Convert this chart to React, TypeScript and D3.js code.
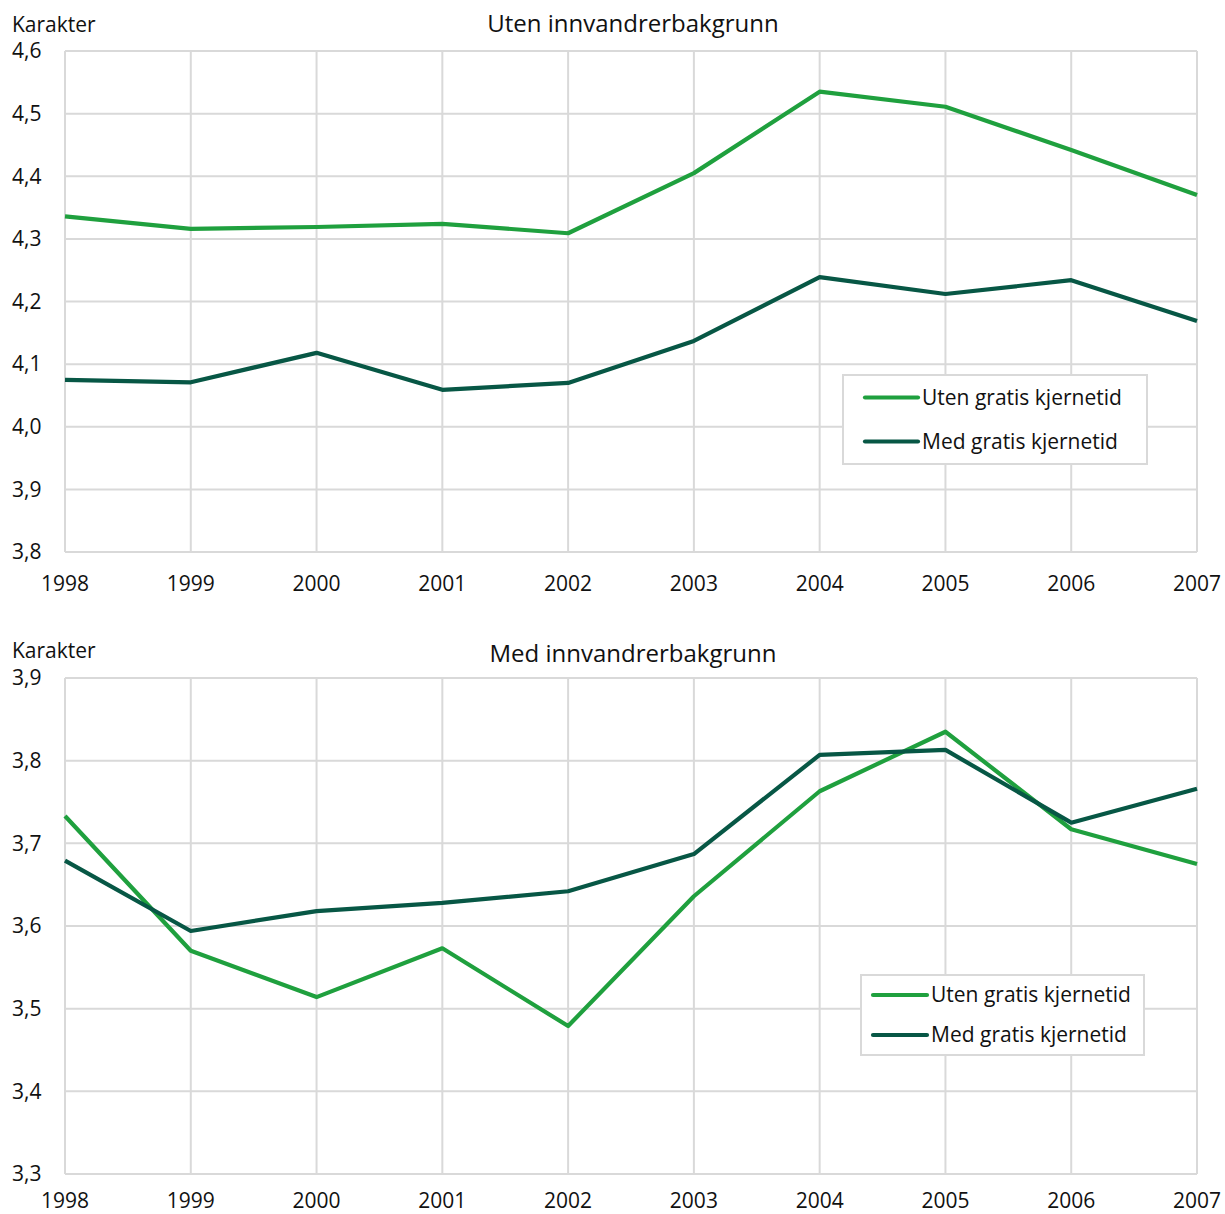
import React from "react";
import * as d3 from "d3";

const years = [1998, 1999, 2000, 2001, 2002, 2003, 2004, 2005, 2006, 2007];
const seriesNames = ["Uten gratis kjernetid", "Med gratis kjernetid"];
const colors = ["#1fa03e", "#075745"];

const topTitle = "Uten innvandrerbakgrunn";
const topUten = [4.336, 4.316, 4.319, 4.324, 4.309, 4.405, 4.535, 4.511, 4.442, 4.37];
const topMed = [4.075, 4.071, 4.118, 4.059, 4.07, 4.137, 4.239, 4.212, 4.234, 4.169];
const topTicks = [3.8, 3.9, 4.0, 4.1, 4.2, 4.3, 4.4, 4.5, 4.6];

const botTitle = "Med innvandrerbakgrunn";
const botUten = [3.733, 3.57, 3.514, 3.573, 3.479, 3.636, 3.763, 3.835, 3.717, 3.675];
const botMed = [3.679, 3.594, 3.618, 3.628, 3.642, 3.687, 3.807, 3.813, 3.725, 3.766];
const botTicks = [3.3, 3.4, 3.5, 3.6, 3.7, 3.8, 3.9];

const FONT = "'Open Sans', sans-serif";
const TXT = "#111";
const fmt = (v: number) => v.toFixed(1).replace(".", ",");

type PanelProps = {
  title: string;
  uten: number[];
  med: number[];
  ticks: number[];
  top: number;
  bottom: number;
  titleOff: number;
  unitOff: number;
  xLabelOff: number;
  legend: { x: number; y: number; w: number; h: number; lineX: number; lineW: number; rowGap: number };
};

function Panel({ title, uten, med, ticks, top, bottom, titleOff, unitOff, xLabelOff, legend }: PanelProps) {
  const left = 65;
  const right = 1197;
  const x = d3.scaleLinear().domain([years[0], years[years.length - 1]]).range([left, right]);
  const y = d3.scaleLinear().domain([ticks[0], ticks[ticks.length - 1]]).range([bottom, top]);
  const line = d3
    .line<number>()
    .x((_, i) => x(years[i]))
    .y((d) => y(d));
  const data = [uten, med];
  return (
    <g>
      <text x={12} y={top - unitOff} fontSize={21} fontFamily={FONT} fill={TXT}>
        Karakter
      </text>
      <text x={633} y={top - titleOff} fontSize={24} fontFamily={FONT} fill={TXT} textAnchor="middle">
        {title}
      </text>
      {ticks.map((t) => (
        <g key={t}>
          <line x1={left} x2={right} y1={y(t)} y2={y(t)} stroke="#d9d9d9" strokeWidth={2} />
          <text x={12} y={y(t)} dy="0.35em" fontSize={21} fontFamily={FONT} fill={TXT}>
            {fmt(t)}
          </text>
        </g>
      ))}
      {years.map((yr) => (
        <g key={yr}>
          <line x1={x(yr)} x2={x(yr)} y1={top} y2={bottom} stroke="#d9d9d9" strokeWidth={2} />
          <text x={x(yr)} y={bottom + xLabelOff} fontSize={21} fontFamily={FONT} fill={TXT} textAnchor="middle">
            {yr}
          </text>
        </g>
      ))}
      {data.map((d, i) => (
        <path key={i} d={line(d) || ""} fill="none" stroke={colors[i]} strokeWidth={4.2} strokeLinejoin="round" />
      ))}
      <rect x={legend.x} y={legend.y} width={legend.w} height={legend.h} fill="#fff" stroke="#d9d9d9" strokeWidth={2} />
      {seriesNames.map((n, i) => {
        const ly = legend.y + legend.h / 2 + (i - 0.5) * legend.rowGap;
        return (
          <g key={n}>
            <line
              x1={legend.lineX}
              x2={legend.lineX + legend.lineW}
              y1={ly}
              y2={ly}
              stroke={colors[i]}
              strokeWidth={4.2}
              strokeLinecap="round"
            />
            <text x={legend.lineX + legend.lineW + 4} y={ly} dy="0.35em" fontSize={21} fontFamily={FONT} fill={TXT}>
              {n}
            </text>
          </g>
        );
      })}
    </g>
  );
}

export default function App() {
  return (
    <svg width={1225} height={1214} style={{ display: "block", position: "absolute", left: 0, top: 0 }}>
      <rect width={1225} height={1214} fill="#fff" />
      <Panel
        title={topTitle}
        uten={topUten}
        med={topMed}
        ticks={topTicks}
        top={51}
        bottom={552}
        titleOff={19}
        unitOff={19}
        xLabelOff={39}
        legend={{ x: 843, y: 375, w: 304, h: 89, lineX: 865, lineW: 53, rowGap: 44 }}
      />
      <Panel
        title={botTitle}
        uten={botUten}
        med={botMed}
        ticks={botTicks}
        top={678}
        bottom={1174}
        titleOff={16}
        unitOff={20}
        xLabelOff={34}
        legend={{ x: 861, y: 975, w: 283, h: 80, lineX: 873, lineW: 54, rowGap: 40 }}
      />
    </svg>
  );
}
